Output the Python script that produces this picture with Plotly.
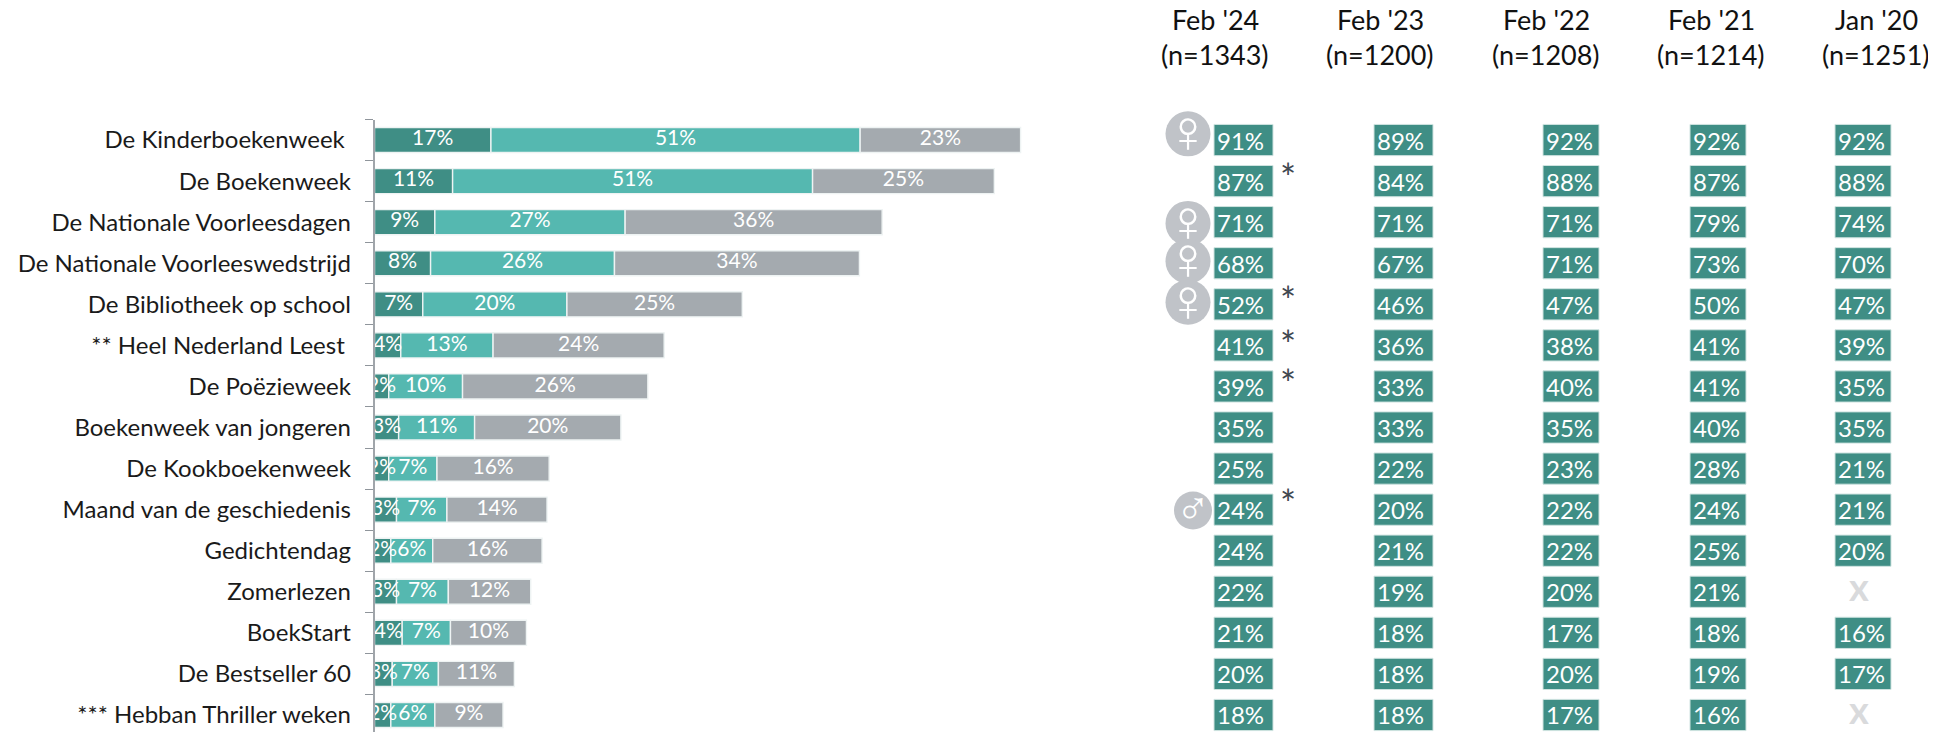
import plotly.graph_objects as go

W, H = 1928, 724   # the page adds an 8px body margin
OFF = 8
FONT = "Lato"

categories = ["De Kinderboekenweek\u00a0", "De Boekenweek", "De Nationale Voorleesdagen",
              "De Nationale Voorleeswedstrijd", "De Bibliotheek op school",
              "** Heel Nederland Leest\u00a0", "De Poëzieweek", "Boekenweek van jongeren",
              "De Kookboekenweek", "Maand van de geschiedenis", "Gedichtendag", "Zomerlezen",
              "BoekStart", "De Bestseller 60", "*** Hebban Thriller weken"]
rows = list(range(len(categories)))

# Bar lengths as drawn
seg1 = [16.4, 11.0, 8.5, 7.9, 6.8, 3.7, 2.0, 3.4, 2.0, 3.1, 2.3, 3.1, 3.9, 2.5, 2.3]
seg2 = [52.0, 50.7, 26.8, 25.9, 20.3, 13.0, 10.4, 10.7, 6.8, 7.1, 5.9, 7.3, 6.8, 6.5, 6.2]
seg3 = [22.6, 25.6, 36.2, 34.5, 24.7, 24.1, 26.1, 20.6, 15.8, 14.1, 15.4, 11.6, 10.7, 10.7, 9.6]
# Printed labels
lab1 = [17, 11, 9, 8, 7, 4, 2, 3, 2, 3, 2, 3, 4, 3, 2]
lab2 = [51, 51, 27, 26, 20, 13, 10, 11, 7, 7, 6, 7, 7, 7, 6]
lab3 = [23, 25, 36, 34, 25, 24, 26, 20, 16, 14, 16, 12, 10, 11, 9]

wave_names = ["Feb '24", "Feb '23", "Feb '22", "Feb '21", "Jan '20"]
wave_n = ["(n=1343)", "(n=1200)", "(n=1208)", "(n=1214)", "(n=1251)"]
feb24 = [91, 87, 71, 68, 52, 41, 39, 35, 25, 24, 24, 22, 21, 20, 18]
feb23 = [89, 84, 71, 67, 46, 36, 33, 33, 22, 20, 21, 19, 18, 18, 18]
feb22 = [92, 88, 71, 71, 47, 38, 40, 35, 23, 22, 22, 20, 17, 20, 17]
feb21 = [92, 87, 79, 73, 50, 41, 41, 40, 28, 24, 25, 21, 18, 19, 16]
jan20 = [92, 88, 74, 70, 47, 39, 35, 35, 21, 21, 20, None, 16, 17, None]
wave_values = [feb24, feb23, feb22, feb21, jan20]

asterisk_rows = [1, 4, 5, 6, 9]
asterisk_dy = [0.03, 0.03, 0.09, 0.06, -0.03]
icons = [("♀", 0, -0.15), ("♀", 2, 0.03), ("♀", 3, -0.05), ("♀", 4, -0.05), ("♂", 9, 0.02)]

# Style / layout constants (reference pixels)
DARK, TEAL, GREY = "#3f8e85", "#55b8b0", "#a4aaaf"
AX0 = 374.5 - OFF
PX_PER_PCT = 7.1
RIGHT0 = 1100 - OFF
COL_LEFT = [c - OFF for c in (1214, 1374, 1543, 1690, 1835)]
COL_W = [59, 59, 56, 56, 56]
HEAD_X = [x - OFF for x in (1215, 1380, 1546, 1711, 1876)]
ROW0, ROW_STEP = 140.0 - OFF, 41.07
AX_TOP = 119.5 - OFF
FRAME_X = 1932 - OFF
FRAME_TOP, FRAME_BOTTOM = (531 - OFF - ROW0) / ROW_STEP, (723 - OFF - ROW0) / ROW_STEP


def cum(*arrs):
    return [sum(v) for v in zip(*arrs)]


fig = go.Figure()
zero = [0] * len(seg1)
stacks = [(seg1, zero, DARK, lab1), (seg2, seg1, TEAL, lab2), (seg3, cum(seg1, seg2), GREY, lab3)]
for vals, base, col, lab in stacks:
    fig.add_bar(y=categories, x=vals, base=base, orientation="h", width=0.61,
                marker=dict(color=col, line=dict(color="#eef3f3", width=1.4)),
                hoverinfo="skip", showlegend=False)
for vals, base, col, lab in stacks:
    fig.add_scatter(y=categories, x=[b + v / 2 for b, v in zip(base, vals)], mode="text",
                    text=[f"{v}%" for v in lab], textposition="middle center",
                    textfont=dict(family=FONT, size=21, color="white"),
                    hoverinfo="skip", showlegend=False)

# Gender icons: grey disc, then a white glyph nudged onto the disc centre
for sym, row, dy in icons:
    male = sym == "♂"
    x = (1193 if male else 1188) - OFF
    fig.add_scatter(y=[row + dy], x=[x], xaxis="x2", yaxis="y2", mode="markers", cliponaxis=False,
                    marker=dict(size=38 if male else 45, color="#c0c3c8", line=dict(width=0)),
                    hoverinfo="skip", showlegend=False)
    fig.add_scatter(y=[row + dy + (0.04 if male else 0.08)], x=[x], xaxis="x2", yaxis="y2", mode="text",
                    cliponaxis=False, text=[sym], textposition="middle center",
                    textfont=dict(family="Liberation Sans", size=46 if male else 60, color="white"),
                    hoverinfo="skip", showlegend=False)

for vals, left, w in zip(wave_values, COL_LEFT, COL_W):
    fig.add_bar(y=rows, x=[w if v is not None else None for v in vals], base=[left] * len(vals),
                xaxis="x2", yaxis="y2", orientation="h", width=0.76,
                marker=dict(color=DARK, line=dict(color="#cfe3e0", width=1)),
                text=[f"{v}%" if v is not None else "" for v in vals],
                textposition="inside", insidetextanchor="start", constraintext="none",
                textangle=0, textfont=dict(family=FONT, size=24, color="white"),
                hoverinfo="skip", showlegend=False)

# Missing measurements
fig.add_scatter(y=[i for i, v in enumerate(jan20) if v is None],
                x=[1859 - OFF] * jan20.count(None), xaxis="x2", yaxis="y2", mode="text",
                text=["x"] * jan20.count(None), textposition="middle center",
                textfont=dict(family=FONT, size=38, color="#d9dadc", weight="bold"),
                hoverinfo="skip", showlegend=False)

# Significance asterisks
fig.add_scatter(y=[r + d for r, d in zip(asterisk_rows, asterisk_dy)],
                x=[1288 - OFF] * len(asterisk_rows), xaxis="x2", yaxis="y2",
                mode="text", text=["*"] * len(asterisk_rows), textposition="middle center",
                textfont=dict(family=FONT, size=38, color="#3f4850"),
                hoverinfo="skip", showlegend=False)

# Left edge of the cut-off box at the right of the page
fig.add_scatter(x=[W, FRAME_X, FRAME_X, W], y=[FRAME_TOP, FRAME_TOP, FRAME_BOTTOM, FRAME_BOTTOM],
                xaxis="x2", yaxis="y2", mode="lines", cliponaxis=False,
                line=dict(color="#c5c7ca", width=2), hoverinfo="skip", showlegend=False)

rows_bottom = (H - ROW0) / ROW_STEP
y_domain = [0, (H - AX_TOP) / H]
fig.update_layout(
    width=W, height=H, margin=dict(l=0, r=0, t=0, b=0), autosize=False,
    paper_bgcolor="white", plot_bgcolor="white", barmode="overlay",
    xaxis=dict(domain=[AX0 / W, RIGHT0 / W], range=[0, (RIGHT0 - AX0) / PX_PER_PCT], visible=False),
    xaxis2=dict(domain=[RIGHT0 / W, 1], range=[RIGHT0, W], visible=False, anchor="y2"),
    yaxis=dict(domain=y_domain, range=[rows_bottom, -0.5], type="category",
               categoryorder="array", categoryarray=categories, tickson="boundaries",
               ticks="outside", ticklen=8, tickcolor="#8f959b", tickwidth=1,
               showline=True, linecolor="#a0a5aa", linewidth=1.5, showgrid=False,
               tickfont=dict(family=FONT, size=24, color="#1a1a1a"), ticklabelstandoff=17,
               automargin=False),
    yaxis2=dict(domain=y_domain, range=[rows_bottom, -0.5], type="linear", visible=False,
                anchor="x2"),
)
for name, n, x in zip(wave_names, wave_n, HEAD_X):
    for txt, y in ((name, 20 - OFF), (n, 54 - OFF)):
        fig.add_annotation(text=txt, xref="x2", yref="paper", x=x, y=1 - y / H, showarrow=False,
                           xanchor="center", yanchor="middle",
                           font=dict(family=FONT, size=27, color="#111111"))

fig.write_html("out.html", config=dict(displayModeBar=False, responsive=False))
